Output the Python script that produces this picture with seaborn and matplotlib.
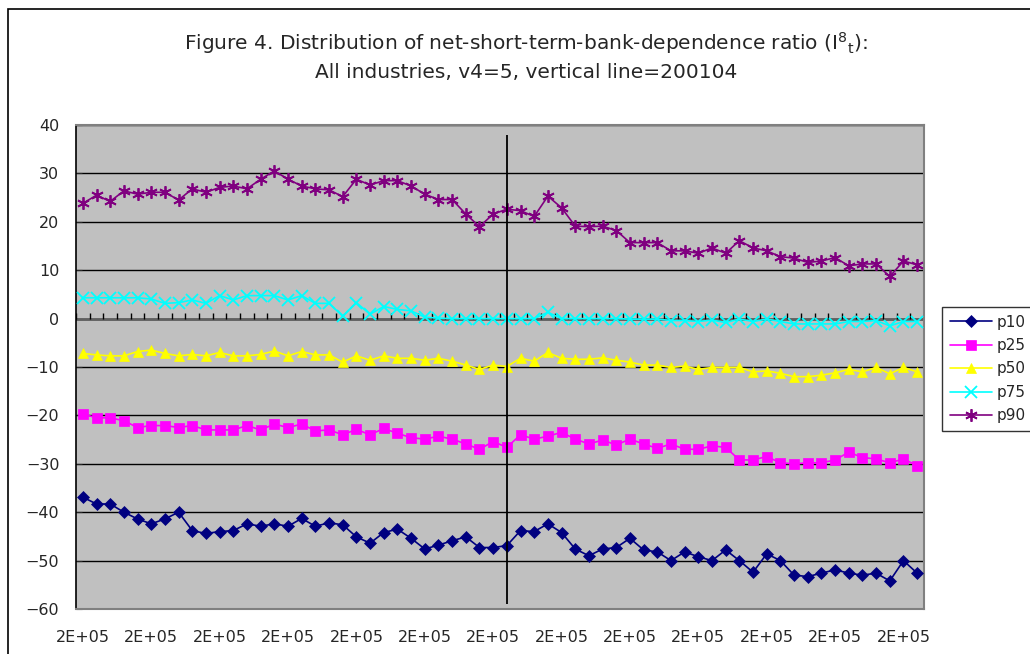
import numpy as np
import pandas as pd
import seaborn as sns
import matplotlib.pyplot as plt
from matplotlib.patches import Rectangle

# quarterly periods, yyyyqq (1994Q1 .. 2009Q2)
periods = [y * 100 + q for y in range(1994, 2010) for q in range(1, 5)][:62]
event_period = 200104

p10 = [-36.9, -38.3, -38.3, -40.0, -41.4, -42.4, -41.4, -40.0, -43.8, -44.4,
       -44.0, -43.8, -42.4, -42.9, -42.4, -42.9, -41.3, -42.9, -42.2, -42.6,
       -45.1, -46.4, -44.2, -43.5, -45.4, -47.6, -46.8, -45.9, -45.1, -47.3,
       -47.3, -46.9, -43.8, -44.0, -42.4, -44.2, -47.6, -49.0, -47.6, -47.3,
       -45.4, -47.8, -48.2, -50.0, -48.2, -49.2, -50.0, -47.8, -50.0, -52.4,
       -48.6, -50.0, -53.0, -53.3, -52.6, -51.9, -52.6, -53.0, -52.6, -54.2,
       -50.0, -52.6]
p25 = [-19.7, -20.5, -20.5, -21.1, -22.5, -22.1, -22.1, -22.5, -22.1, -23.0,
       -23.0, -23.0, -22.1, -23.0, -21.8, -22.5, -21.8, -23.2, -23.0, -24.0,
       -22.9, -24.0, -22.7, -23.7, -24.6, -24.9, -24.3, -24.9, -25.9, -27.0,
       -25.4, -26.6, -24.0, -24.9, -24.3, -23.5, -24.9, -25.9, -25.1, -26.1,
       -24.9, -25.9, -26.8, -25.9, -27.0, -27.0, -26.3, -26.6, -29.2, -29.2,
       -28.5, -29.8, -30.0, -29.8, -29.8, -29.2, -27.6, -28.7, -29.0, -29.8,
       -29.0, -30.4]
p50 = [-7.2, -7.5, -7.7, -7.7, -6.8, -6.5, -7.2, -7.7, -7.4, -7.7,
       -7.0, -7.7, -7.7, -7.4, -6.7, -7.7, -6.8, -7.5, -7.5, -9.0,
       -7.7, -8.6, -7.7, -8.2, -8.2, -8.6, -8.2, -8.8, -9.6, -10.5,
       -9.6, -9.9, -8.2, -8.8, -7.0, -8.2, -8.4, -8.4, -8.1, -8.6,
       -9.0, -9.6, -9.6, -10.1, -9.8, -10.5, -10.1, -10.1, -10.1, -11.0,
       -10.8, -11.3, -12.0, -12.0, -11.7, -11.2, -10.5, -11.0, -10.1, -11.4,
       -10.1, -11.0]
p75 = [4.3, 4.3, 4.3, 4.3, 4.3, 4.05, 3.15, 3.3, 3.85, 3.15,
       4.75, 3.85, 4.75, 4.75, 4.75, 3.85, 4.75, 3.15, 3.15, 0.5,
       3.3, 0.9, 2.5, 1.9, 1.6, 0.3, 0.1, 0.0, 0.0, 0.0,
       0.0, 0.0, 0.0, 0.0, 1.3, 0.0, 0.0, 0.0, 0.0, 0.0,
       -0.1, -0.1, -0.1, -0.4, -0.4, -0.6, -0.3, -0.8, -0.1, -0.6,
       -0.1, -0.6, -1.1, -1.1, -1.1, -1.1, -0.6, -0.6, -0.4, -1.5,
       -0.6, -0.6]
p90 = [23.8, 25.5, 24.2, 26.4, 25.7, 26.1, 26.1, 24.5, 26.8, 26.1,
       27.1, 27.4, 26.8, 28.8, 30.5, 28.8, 27.4, 26.8, 26.6, 25.2,
       28.8, 27.6, 28.5, 28.5, 27.4, 25.7, 24.6, 24.6, 21.6, 19.0,
       21.6, 22.6, 22.3, 21.1, 25.3, 22.9, 19.1, 19.0, 19.1, 18.2,
       15.7, 15.7, 15.7, 14.0, 14.0, 13.5, 14.6, 13.5, 16.1, 14.6,
       14.0, 12.8, 12.5, 11.6, 11.9, 12.6, 10.9, 11.3, 11.3, 8.7,
       11.9, 11.1]

names = ['p10', 'p25', 'p50', 'p75', 'p90']
colors = ['#000080', '#FF00FF', '#FFFF00', '#00FFFF', '#800080']
markers = ['D', 's', '^', 'x', (6, 2, 0)]
msizes = [6.5, 6.5, 7.5, 8, 9]

pos = np.arange(len(periods))
df = pd.DataFrame({'pos': pos, 'p10': p10, 'p25': p25, 'p50': p50,
                   'p75': p75, 'p90': p90})

sns.set_style("white")
plt.rcParams['font.family'] = ['DejaVu Sans']
plt.rcParams['axes.unicode_minus'] = True

fig = plt.figure(figsize=(10.3, 6.54), dpi=100)
ax = fig.add_axes([76 / 1030, 1 - 609 / 654, 848 / 1030, 484 / 654])
ax.set_facecolor('#C0C0C0')

# gridlines and the category axis crossing at 0
ax.set_ylim(-60, 40)
ax.set_xlim(-0.5, len(periods) - 0.5)
ax.set_yticks(range(-60, 41, 10))
ax.yaxis.grid(True, color='black', linewidth=1)
ax.set_axisbelow(True)
ax.axhline(0, color='#606060', linewidth=2, zorder=1.5)
ax.vlines(np.arange(len(periods) + 1) - 0.5, 0, 1.1, color='black',
          linewidth=1, zorder=1.6)

for name, c, m, ms in zip(names, colors, markers, msizes):
    sns.lineplot(data=df, x='pos', y=name, color=c, marker=m, markersize=ms,
                 markeredgecolor=c, markerfacecolor=c,
                 markeredgewidth=1.3 if m in ('x', (6, 2, 0)) else 0.5,
                 linewidth=1.2, label=name, ax=ax, zorder=3)

# vertical line at event period
ev = periods.index(event_period)
ax.vlines(ev, -59, 38, color='black', linewidth=1.3, zorder=4)

ax.set_xticks(pos[::5])
ax.set_xticklabels([f"{p:.0E}" for p in periods[::5]])
ax.tick_params(axis='x', length=0, pad=15, labelsize=11.5)
ax.tick_params(axis='y', length=4, direction='in', pad=12, labelsize=11.5,
               left=True)
ax.set_xlabel('')
ax.set_ylabel('')

ax.spines['left'].set_color('black')
ax.spines['left'].set_linewidth(1.2)
for s in ['top', 'right', 'bottom']:
    ax.spines[s].set_color('#808080')
    ax.spines[s].set_linewidth(1.5)

leg = ax.legend(loc='upper left', bbox_to_anchor=(942 / 1030, 1 - 307 / 654),
                bbox_transform=fig.transFigure, borderaxespad=0,
                frameon=True, fancybox=False, edgecolor='black', fontsize=11,
                handlelength=2.8, handletextpad=0.3, labelspacing=0.55,
                borderpad=0.5)
leg.get_frame().set_linewidth(1)

fig.text(526 / 1030, 1 - 43 / 654,
         'Figure 4. Distribution of net-short-term-bank-dependence ratio '
         r'(I$\mathregular{^{8}}$$\mathregular{_{t}}$):',
         ha='center', va='center', fontsize=14.5)
fig.text(526 / 1030, 1 - 73 / 654, 'All industries, v4=5, vertical line=200104',
         ha='center', va='center', fontsize=14.5)

# chart area border
fig.patches.append(Rectangle((8 / 1030, -0.1), 2, 1 - 9 / 654 + 0.1,
                             transform=fig.transFigure, fill=False,
                             edgecolor='black', linewidth=1.2))

fig.savefig('out.png', dpi=100)
